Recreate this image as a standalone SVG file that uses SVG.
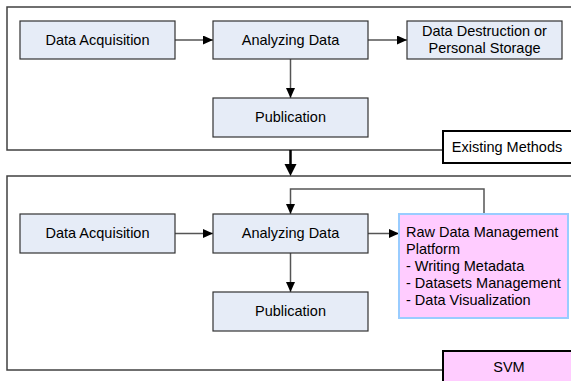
<svg xmlns="http://www.w3.org/2000/svg" width="571" height="381" viewBox="0 0 571 381">
<defs>
<style>
.frame{fill:#fff;stroke:#404040;stroke-width:1.5}
.box{fill:#E6ECF7;stroke:#333;stroke-width:1.2}
.label{fill:#fff;stroke:#000;stroke-width:2}
.pink{fill:#FFCCFF;stroke:#000;stroke-width:2}
.raw{fill:#FFCCFF;stroke:#99CCFF;stroke-width:2}
.t{font-family:"Liberation Sans",Arial,sans-serif;font-size:14.5px;fill:#000}
.c{text-anchor:middle}
.conn{fill:none;stroke:#555;stroke-width:1.5}
</style>
<marker id="ah" markerUnits="userSpaceOnUse" markerWidth="11" markerHeight="10" refX="10" refY="4.5" orient="auto">
<path d="M0,0 L10,4.5 L0,9 z" fill="#000"/>
</marker>
</defs>
<g id="existing-frame">
<rect class="frame" x="7" y="7" width="580" height="143"/>
</g>
<g id="svm-frame">
<rect class="frame" x="7" y="176" width="580" height="194"/>
</g>
<g id="connectors">
<line class="conn" x1="175" y1="40" x2="213" y2="40" marker-end="url(#ah)"/>
<line class="conn" x1="368" y1="40" x2="407" y2="40" marker-end="url(#ah)"/>
<line class="conn" x1="290.5" y1="59" x2="290.5" y2="98" marker-end="url(#ah)"/>
<line x1="290.5" y1="150" x2="290.5" y2="165" stroke="#000" stroke-width="2.5"/>
<polygon points="284.5,164 296.5,164 290.5,176" fill="#000"/>
<line class="conn" x1="175" y1="233.5" x2="213" y2="233.5" marker-end="url(#ah)"/>
<line class="conn" x1="368" y1="233.5" x2="399" y2="233.5" marker-end="url(#ah)"/>
<line class="conn" x1="290.5" y1="253" x2="290.5" y2="292" marker-end="url(#ah)"/>
<polyline class="conn" points="484,214 484,189 290.5,189 290.5,214" marker-end="url(#ah)"/>
</g>
<g id="top-acq">
<rect class="box" x="20" y="21" width="155" height="38"/>
<text class="t c" x="97.5" y="45">Data Acquisition</text>
</g>
<g id="top-analyze">
<rect class="box" x="213" y="21" width="155" height="38"/>
<text class="t c" x="290.5" y="45">Analyzing Data</text>
</g>
<g id="top-destruction">
<rect class="box" x="407" y="21" width="155" height="38"/>
<text class="t c" x="484.5" y="36">Data Destruction or</text>
<text class="t c" x="484.5" y="53">Personal Storage</text>
</g>
<g id="top-publication">
<rect class="box" x="213" y="98" width="155" height="39"/>
<text class="t c" x="290.5" y="122">Publication</text>
</g>
<g id="existing-label">
<rect class="label" x="443" y="131" width="130" height="32"/>
<text class="t c" x="507" y="152">Existing Methods</text>
</g>
<g id="bottom-acq">
<rect class="box" x="20" y="214" width="155" height="39"/>
<text class="t c" x="97.5" y="238">Data Acquisition</text>
</g>
<g id="bottom-analyze">
<rect class="box" x="213" y="214" width="155" height="39"/>
<text class="t c" x="290.5" y="238">Analyzing Data</text>
</g>
<g id="bottom-publication">
<rect class="box" x="213" y="292" width="155" height="39"/>
<text class="t c" x="290.5" y="316">Publication</text>
</g>
<g id="raw-platform">
<rect class="raw" x="399" y="214" width="169" height="104"/>
<text class="t" x="406" y="237">Raw Data Management</text>
<text class="t" x="406" y="254">Platform</text>
<text class="t" x="406" y="271">- Writing Metadata</text>
<text class="t" x="406" y="288">- Datasets Management</text>
<text class="t" x="406" y="305">- Data Visualization</text>
</g>
<g id="svm-label">
<rect class="pink" x="443" y="351" width="130" height="40"/>
<text class="t c" x="509" y="372">SVM</text>
</g>
</svg>
